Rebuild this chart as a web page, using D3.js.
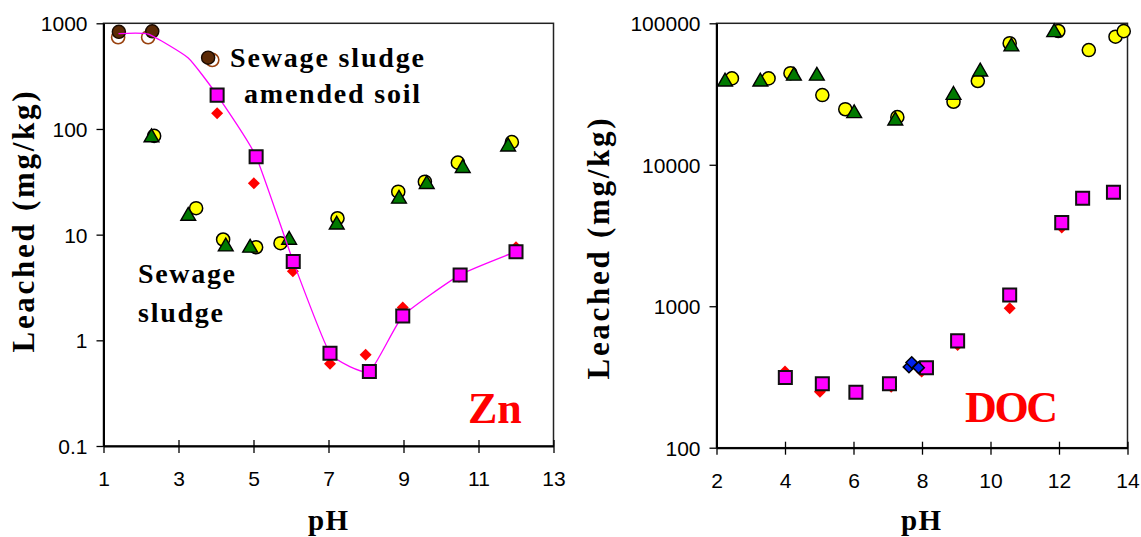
<!DOCTYPE html>
<html>
<head>
<meta charset="utf-8">
<script src="https://cdn.jsdelivr.net/npm/d3@7"></script>
<style>
  body { margin: 0; background: #fff; }
  .tick text { font-family: "Liberation Sans", Arial, sans-serif; font-size: 21px; fill: #000; }
  .lbl { font-family: "Liberation Serif", "Times New Roman", serif; font-weight: bold; fill: #000; }
</style>
</head>
<body>
<div id="chart"></div>
<script>
// ---- Zn panel data: [pH, mg/kg] ----
var znSludgeFilled = [[1.41, 830], [2.30, 840], [3.79, 473]];
var znSludgeOpen = [[1.39, 738], [2.19, 738], [3.90, 450]];
var znYellow = [[2.35, 86], [3.47, 17.8], [4.19, 9.0], [5.07, 7.6], [5.72, 8.3], [7.24, 14.3],
                [8.86, 25.5], [9.57, 31.7], [10.45, 48], [11.89, 75]];
var znGreen = [[2.28, 83], [3.26, 15], [4.26, 7.7], [4.91, 7.5], [5.95, 8.9], [7.22, 12.4],
               [8.88, 21.8], [9.62, 30], [10.58, 42.5], [11.79, 68]];
var znRed = [[4.03, 141], [5.01, 30.6], [6.05, 4.5], [7.04, 0.60], [7.99, 0.73], [8.98, 2.04],
             [10.48, 4.0], [12.0, 7.6]];
var znMagenta = [[4.03, 209], [5.07, 54.7], [6.06, 5.56], [7.04, 0.755], [8.09, 0.506],
                 [8.98, 1.70], [10.51, 4.16], [12.0, 6.9]];
var znModel = [[1.40, 800], [2.20, 790], [3.26, 470], [4.03, 209], [5.07, 54.7], [6.06, 5.56],
               [7.04, 0.755], [8.09, 0.506], [8.98, 1.70], [10.51, 4.16], [12.0, 6.9]];

// ---- DOC panel data ----
var docYellow = [[2.45, 40800], [3.52, 40800], [4.16, 44400], [5.09, 31100], [5.76, 24700],
                 [7.28, 21700], [8.92, 27900], [9.63, 39100], [10.56, 72300], [11.98, 88200],
                 [12.87, 64700], [13.65, 80400], [13.89, 88000]];
var docGreen = [[2.25, 38600], [3.28, 38600], [4.26, 42500], [4.93, 42500], [6.02, 23100],
                [7.22, 20500], [8.92, 31100], [9.70, 45500], [10.61, 68400], [11.86, 86300]];
var docRed = [[4.0, 345], [5.02, 249], [6.07, 245], [7.10, 270], [7.99, 345], [9.04, 533],
              [10.56, 968], [12.08, 3600]];
var docMagenta = [[4.01, 313], [5.09, 283], [6.07, 247], [7.05, 283], [8.13, 368], [9.04, 569],
                  [10.56, 1202], [12.08, 3900], [12.69, 5790], [13.59, 6400]];
var docBlue = [[7.62, 372], [7.70, 400], [7.90, 368]];

// tick labels
var znXTicks = [1, 3, 5, 7, 9, 11, 13];
var znYTicks = [0.1, 1, 10, 100, 1000];
var docXTicks = [2, 4, 6, 8, 10, 12, 14];
var docYTicks = [100, 1000, 10000, 100000];

var width = 1141, height = 537;
var svg = d3.select("#chart").append("svg")
    .attr("width", width)
    .attr("height", height);

var symCircle = d3.symbol().type(d3.symbolCircle).size(135);
var symSquare = d3.symbol().type(d3.symbolSquare).size(170);
var symTri = d3.symbol().type(d3.symbolTriangle).size(95);
var symDiamond = d3.symbol().type(d3.symbolSquare).size(72);
var symBlueDiamond = d3.symbol().type(d3.symbolSquare).size(66);

function drawPanel(p) {
    var g = svg.append("g");
    var x = d3.scaleLinear().domain(p.xDomain).range([p.left, p.right]);
    var y = d3.scaleLog().domain(p.yDomain).range([p.bottom, p.top]);

    // frame
    g.append("rect")
        .attr("x", p.left).attr("y", p.top)
        .attr("width", p.right - p.left).attr("height", p.bottom - p.top)
        .attr("fill", "none").attr("stroke", "#222").attr("stroke-width", 1.5);

    // axes
    var xAxis = g.append("g")
        .attr("transform", "translate(0," + p.bottom + ")")
        .call(d3.axisBottom(x).tickValues(p.xTicks).tickFormat(d3.format("d"))
            .tickSizeInner(7).tickSizeOuter(0).tickPadding(18));
    xAxis.selectAll(".tick line").attr("y1", -6).attr("stroke-width", 1.3);
    var yAxis = g.append("g")
        .attr("transform", "translate(" + p.left + ",0)")
        .call(d3.axisLeft(y).tickValues(p.yTicks).tickFormat(function(d){ return String(d); })
            .tickSizeInner(7).tickSizeOuter(0).tickPadding(9));
    yAxis.selectAll(".tick line").attr("stroke-width", 1.3);
    yAxis.selectAll(".tick text").attr("dy", "0.36em");
    g.selectAll(".domain").attr("stroke", "#000").attr("stroke-width", 2);

    function pts(data, sym, fill, stroke, sw, rot) {
        g.append("g").selectAll("path")
            .data(data)
            .enter()
            .append("path")
            .attr("d", sym)
            .attr("transform", function(d){
                return "translate(" + x(d[0]) + "," + y(d[1]) + ")" + (rot ? " rotate(45)" : "");
            })
            .attr("fill", fill)
            .attr("stroke", stroke)
            .attr("stroke-width", sw);
    }
    return {g: g, x: x, y: y, pts: pts};
}

// ---------- Zn ----------
var zn = drawPanel({
    left: 103.5, right: 553.5, top: 23.3, bottom: 446,
    xDomain: [1, 13], yDomain: [0.1, 1000], xTicks: znXTicks, yTicks: znYTicks
});

zn.pts(znSludgeOpen, symCircle, "#fff", "#99420f", 1.6);
zn.pts(znSludgeFilled, symCircle, "#5c2a06", "#1a0a00", 1.4);
zn.pts(znYellow, symCircle, "#ffff00", "#000", 1.5);
zn.pts(znGreen, symTri, "#007a00", "#000", 1.4);
zn.pts(znRed, symDiamond, "#ff0000", "none", 0, true);

// smoothed model line (cardinal with tension -> only mild rounding, like Excel)
zn.g.append("path")
    .datum(znModel)
    .attr("fill", "none")
    .attr("stroke", "#ff00ff")
    .attr("stroke-width", 1.3)
    .attr("d", d3.line()
        .x(function(d){ return zn.x(d[0]); })
        .y(function(d){ return zn.y(d[1]); })
        .curve(d3.curveCardinal.tension(0.55)));

zn.pts(znMagenta, symSquare, "#ff00ff", "#111", 2);

zn.g.append("text").attr("class", "lbl").attr("x", 230).attr("y", 66.7)
    .attr("font-size", 28).attr("textLength", 194).attr("lengthAdjust", "spacing")
    .text("Sewage sludge");
zn.g.append("text").attr("class", "lbl").attr("x", 244).attr("y", 103.3)
    .attr("font-size", 28).attr("textLength", 176).attr("lengthAdjust", "spacing")
    .text("amended soil");
zn.g.append("text").attr("class", "lbl").attr("x", 138).attr("y", 282.7)
    .attr("font-size", 28).attr("textLength", 97).attr("lengthAdjust", "spacing")
    .text("Sewage");
zn.g.append("text").attr("class", "lbl").attr("x", 138).attr("y", 321.7)
    .attr("font-size", 28).attr("textLength", 85).attr("lengthAdjust", "spacing")
    .text("sludge");
zn.g.append("text").attr("class", "lbl").attr("x", 468).attr("y", 423.3)
    .attr("font-size", 44).style("fill", "#ff0000").text("Zn");

// ---------- DOC ----------
var doc = drawPanel({
    left: 716.5, right: 1127.5, top: 23.3, bottom: 447.7,
    xDomain: [2, 14], yDomain: [100, 100000], xTicks: docXTicks, yTicks: docYTicks
});

doc.pts(docYellow, symCircle, "#ffff00", "#000", 1.5);
doc.pts(docGreen, symTri, "#007a00", "#000", 1.4);
doc.pts(docRed, symDiamond, "#ff0000", "none", 0, true);
doc.pts(docMagenta, symSquare, "#ff00ff", "#111", 2);
doc.pts(docBlue, symBlueDiamond, "#0022ee", "#000", 1.5, true);

doc.g.append("text").attr("class", "lbl").attr("x", 965).attr("y", 421.7)
    .attr("font-size", 44).attr("textLength", 93).attr("lengthAdjust", "spacing")
    .style("fill", "#ff0000").text("DOC");

// ---------- axis titles ----------
function yTitle(cx, cy) {
    svg.append("text").attr("class", "lbl")
        .attr("transform", "translate(" + cx + "," + cy + ") rotate(-90)")
        .attr("text-anchor", "middle")
        .attr("font-size", 31)
        .attr("textLength", 261).attr("lengthAdjust", "spacing")
        .text("Leached (mg/kg)");
}
yTitle(33.5, 222);
yTitle(608.5, 249);

function xTitle(cx) {
    svg.append("text").attr("class", "lbl")
        .attr("x", cx).attr("y", 530)
        .attr("text-anchor", "middle")
        .attr("font-size", 29)
        .attr("textLength", 40).attr("lengthAdjust", "spacing")
        .text("pH");
}
xTitle(328);
xTitle(921);
</script>
</body>
</html>
